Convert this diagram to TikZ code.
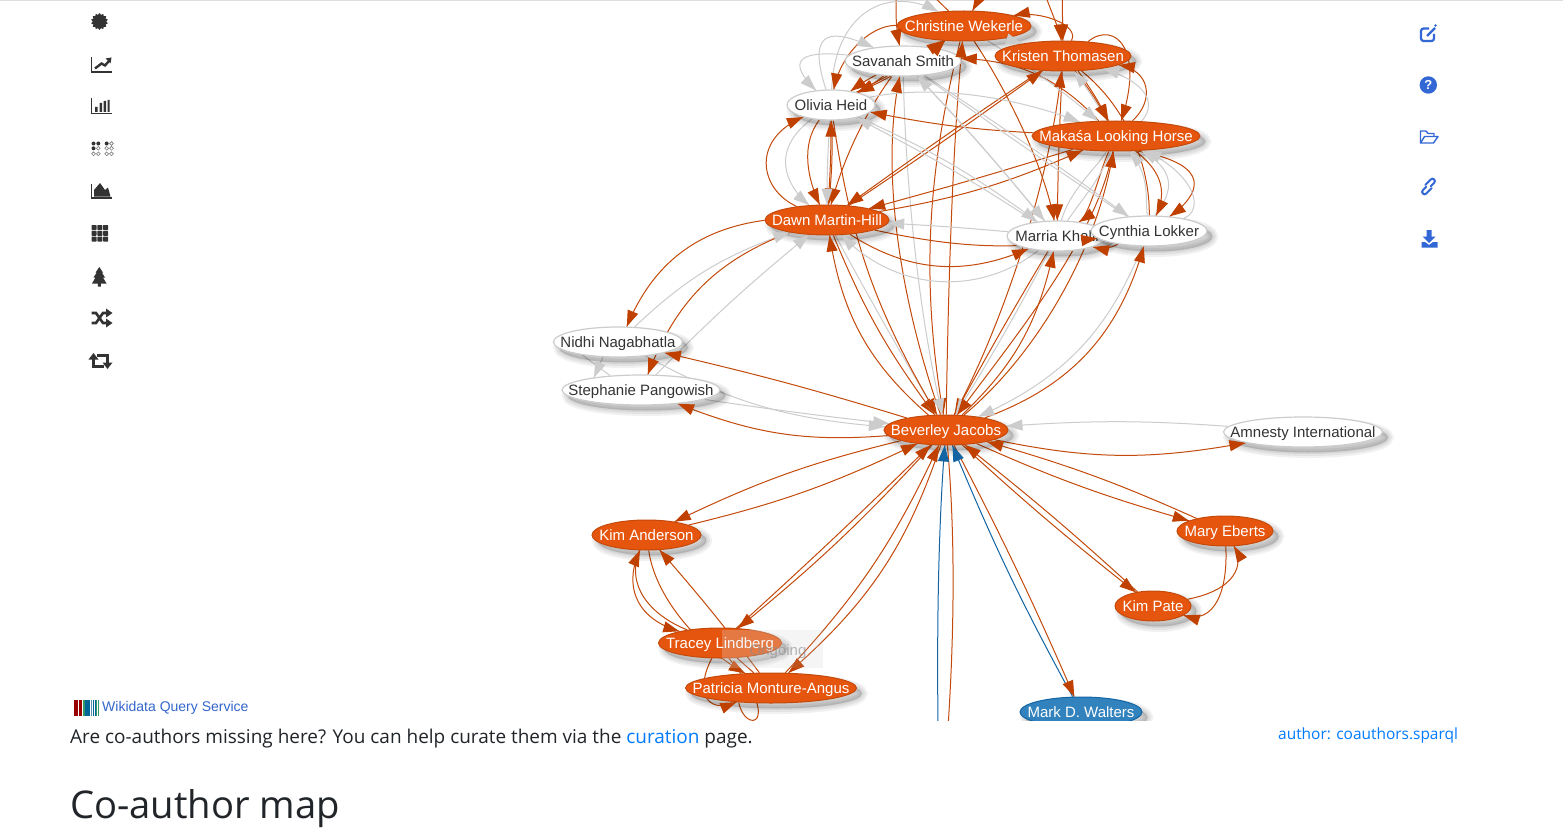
\documentclass[tikz,border=0pt]{standalone}
\usepackage{fontspec}
\setmainfont{Liberation Sans}
\newfontfamily\bodyf{Open Sans}
\usetikzlibrary{shapes.geometric,arrows.meta}
\definecolor{oc}{HTML}{C44A0C}
\definecolor{otip}{HTML}{C04000}
\definecolor{ofill}{HTML}{E6550D}
\definecolor{bc}{HTML}{1264A3}
\definecolor{bfill}{HTML}{3182BD}
\definecolor{gc}{HTML}{CCCCCC}
\definecolor{ink}{HTML}{333333}
\definecolor{iconb}{HTML}{3367D6}
\definecolor{linkb}{HTML}{007BFF}
\definecolor{wdq}{HTML}{3366CC}
\definecolor{head}{HTML}{212529}
\pgfdeclarelayer{paper}\pgfdeclarelayer{edges}\pgfdeclarelayer{tips}\pgfsetlayers{paper,edges,main,tips}
\tikzset{
 softlayer/.style={preaction={fill=black,draw=black,fill opacity=.055,draw opacity=.055,line width=#1,transform canvas={shift={(5.5pt,-5.5pt)}}}},
 softshadow/.style={softlayer=11pt,softlayer=7pt,softlayer=3pt},
 gnode/.style={ellipse,inner sep=0pt,minimum height=30pt,font=\fontsize{15}{15}\selectfont,softshadow},
 onode/.style={gnode,fill=ofill,draw=oc,line width=1pt,text=white},
 wnode/.style={gnode,fill=white,draw=gc,line width=1.2pt,text=ink},
 bnode/.style={gnode,fill=bfill,draw=bc,line width=1pt,text=white},
 oline/.style={draw=oc,line width=1pt},
 gline/.style={draw=gc,line width=1pt},
 bline/.style={draw=bc,line width=1pt},
 tiphead/.style={dash pattern=on 0pt off 4000pt,line cap=butt,line width=1pt,
   -{Triangle[length=16pt,width=11pt]}},
 otips/.style={draw=otip,tiphead},
 gtips/.style={draw=gc,tiphead},
 btips/.style={draw=bc,tiphead},
 icond/.style={fill=ink,draw=none},
 axisl/.style={draw=ink,line width=1.4pt},
 iconbl/.style={draw=iconb,line width=1.7pt,fill=none},
 iconbf/.style={fill=iconb,draw=none},
}
\newcommand\T[1]{\makebox[0pt]{\rule[-3.2pt]{0pt}{17.2pt}#1}}
\newcommand\mkedge[3]{%
 \begin{pgfonlayer}{edges}\begin{scope}\clip (0,1) rectangle (1563,720);\draw[#1] #3;\end{scope}\end{pgfonlayer}%
 \begin{pgfonlayer}{tips}\begin{scope}\clip (0,1) rectangle (1563,720);\draw[#2] #3;\end{scope}\end{pgfonlayer}}
\newcommand\Eo[1]{\mkedge{oline}{otips}{#1}}
\newcommand\Eg[1]{\mkedge{gline}{gtips}{#1}}
\newcommand\Eb[1]{\mkedge{bline}{btips}{#1}}
\newcommand\Lo[1]{\begin{pgfonlayer}{edges}\begin{scope}\clip (0,1) rectangle (1563,720);\draw[oline] #1;\end{scope}\end{pgfonlayer}}
\newcommand\Lg[1]{\begin{pgfonlayer}{edges}\begin{scope}\clip (0,1) rectangle (1563,720);\draw[gline] #1;\end{scope}\end{pgfonlayer}}
\begin{document}
\begin{tikzpicture}[x=1pt,y=-1pt]
\useasboundingbox (0,0) rectangle (1563,832);
\begin{pgfonlayer}{paper}
\fill[white] (0,0) rectangle (1563,832);
\fill[black!13] (0,0) rectangle (1563,1);
\end{pgfonlayer}
% ---------- nodes
\begin{scope}
\clip (0,1) rectangle (1563,720);
\node[wnode,minimum width=100pt] (mk) at (1057,236) {\T{Marria Khalil}};
\node[wnode,minimum width=116pt] (cl) at (1149,231) {\T{Cynthia Lokker}};
\node[onode,minimum width=134pt] (cw) at (964,26) {\T{Christine Wekerle}};
\node[wnode,minimum width=116pt] (ss) at (903,61) {\T{Savanah Smith}};
\node[onode,minimum width=136pt] (kt) at (1063,56) {\T{Kristen Thomasen}};
\node[wnode,minimum width=88pt] (oh) at (831,105) {\T{Olivia Heid}};
\node[onode,minimum width=168pt] (mlh) at (1116,136) {\T{Makaśa Looking Horse}};
\node[onode,minimum width=124pt] (dmh) at (827,220) {\T{Dawn Martin-Hill}};
\node[wnode,minimum width=129pt] (nn) at (618,342) {\T{Nidhi Nagabhatla}};
\node[wnode,minimum width=158pt] (sp) at (641,390) {\T{Stephanie Pangowish}};
\node[onode,minimum width=124pt] (bj) at (946,430) {\T{Beverley Jacobs}};
\node[wnode,minimum width=159pt] (ai) at (1303,432) {\T{Amnesty International}};
\node[onode,minimum width=109pt] (ka) at (646.5,535) {\T{Kim Anderson}};
\node[onode,minimum width=96pt] (me) at (1225,531) {\T{Mary Eberts}};
\node[onode,minimum width=123pt] (tl) at (720,643) {\T{Tracey Lindberg}};
\node[onode,minimum width=76pt] (kp) at (1153,606) {\T{Kim Pate}};
\node[onode,minimum width=171pt] (pma) at (771,688) {\T{Patricia Monture-Angus}};
\node[bnode,minimum width=122pt] (mw) at (1081,712) {\T{Mark D. Walters}};
\end{scope}
% free ends off the canvas
\coordinate (t1) at (897,-20);
\coordinate (t2) at (1062,-20);
\coordinate (t3) at (1040,-20);
\coordinate (t4) at (985,-12);
\coordinate (t5) at (925,-12);
\coordinate (d1) at (939,780);
\coordinate (d2) at (944,780);
% ---------- bottom half
\Eo{(bj) to[bend right=6] (ka)}
\Eo{(ka) to[bend right=6] (bj)}
\Eo{(bj) to[bend left=4] (tl)}
\Eo{(tl) to[bend right=1] (bj)}
\Eo{(bj) to[bend left=15] (pma)}
\Eo{(pma) to[bend right=9] (bj)}
\Eo{(ka) .. controls (622,590) and (640,620) .. (tl)}
\Eo{(tl) .. controls (650,615) and (625,585) .. (ka)}
\Eo{(ka) .. controls (655,595) and (695,645) .. (pma)}
\Eo{(pma) to[bend right=2] (ka)}
\Eo{(tl) .. controls (695,690) and (705,715) .. (pma)}
\Lo{(tl) -- (pma)}
\Lo{(pma.204) .. controls (745,735) and (785,725) .. (tl.-60)}
\Eb{(d1) .. controls (936,650) and (938,530) .. (bj)}
\Eo{(bj) .. controls (955,530) and (956,640) .. (d2)}
\Eo{(bj) to[bend left=2] (mw)}
\Eb{(mw) to[bend left=3] (bj)}
\Eo{(bj) to[bend right=2] (kp)}
\Eo{(kp) to[bend right=2] (bj)}
\Eo{(bj) to[bend right=4] (me)}
\Eo{(me) to[bend right=4] (bj)}
\Eg{(ai) to[bend right=4] (bj)}
\Eo{(bj) to[bend right=11] (ai)}
\Eo{(kp) .. controls (1235,590) and (1245,565) .. (me)}
\Eo{(me) .. controls (1228,590) and (1215,625) .. (kp)}
\Eo{(bj) to[bend right=2] (nn)}
\Eg{(nn) to[bend right=12] (bj)}
\Eg{(sp) to[bend right=1] (bj)}
\Eo{(bj) to[bend left=13] (sp)}
\Eg{(nn.-135) -- (sp.165)}
\Lg{(nn.200) -- (sp.155)}
\Eo{(dmh) to[bend right=30] (nn)}
\Eg{(nn) to[bend left=12] (dmh)}
\Eo{(dmh) to[bend right=24] (sp)}
\Eg{(sp) to[bend left=3] (dmh)}
\Eo{(bj) to[bend left=20] (dmh)}
\Eo{(dmh) to[bend right=7] (bj)}
\Eg{(dmh) to[bend right=1] (bj)}
\Eo{(oh) to[bend right=11] (bj)}
\Eo{(bj) .. controls (900,300) and (880,170) .. (ss)}
\Eo{(cw) .. controls (925,180) and (922,290) .. (bj)}
\Eo{(bj) .. controls (948,300) and (952,150) .. (cw)}
\Eg{(ss) .. controls (905,160) and (915,300) .. (bj)}
\Eo{(bj) .. controls (1005,320) and (1050,180) .. (kt)}
\Eo{(bj) to[bend right=17] (mk)}
\Eo{(mk) to[bend right=1] (bj)}
\Eg{(mk) to[bend left=2] (bj)}
\Eo{(mlh) .. controls (1095,240) and (1020,330) .. (bj)}
\Eo{(bj) .. controls (1030,360) and (1095,260) .. (mlh)}
\Eo{(bj) to[bend right=27] (cl)}
\Eg{(cl) to[bend left=22] (bj)}
% ---------- top half, orange
\Eo{(dmh) to[bend right=28] (mk)}
\Eg{(mk) to[bend left=42] (dmh)}
\Eo{(dmh) to[bend right=10] (cl)}
\Eo{(cl) to[bend left=20] (mk)}
\Eg{(mk) to[bend right=1] (dmh)}
\Eo{(mlh) to[bend left=4] (oh)}
\Eo{(cw) .. controls (870,25) and (840,55) .. (oh)}
\Eo{(dmh) .. controls (760,190) and (750,140) .. (oh)}
\Eo{(oh) .. controls (800,145) and (808,180) .. (dmh)}
\Eo{(oh) to[bend left=4] (dmh)}
\Eo{(dmh) to[bend right=2] (oh)}
\Eo{(ss) .. controls (860,120) and (840,170) .. (dmh)}
\Eo{(dmh) to[bend right=1] (kt)}
\Eo{(kt) to[bend right=1] (dmh)}
\Eo{(mlh) to[bend left=1] (dmh)}
\Eo{(dmh) to[bend right=7] (mlh)}
\Eo{(mlh) to[bend right=22] (ss)}
\Eo{(ss) to[bend left=6] (oh)}
\Eo{(ss) to[bend right=4] (oh)}
\Eo{(cw) to[bend left=6] (oh)}
\Eo{(ss) to[bend right=8] (cw)}
\Eo{(oh) to[bend right=4] (cw)}
\Eo{(t1) .. controls (895,10) and (896,30) .. (ss)}
\Eo{(kt) .. controls (1080,25) and (1040,10) .. (cw)}
\Eo{(t2) -- (kt)}
\Eo{(t3) .. controls (1050,10) and (1060,30) .. (kt)}
\Eo{(t4) -- (cw)}
\Lo{(t5) -- (cw)}
\Eo{(kt) to[bend left=5] (mlh)}
\Eo{(kt.-45) to[bend left=4] (mlh)}
\Lo{(kt) .. controls (1130,110) and (1150,170) .. (cl)}
\Eo{(mlh) .. controls (1160,170) and (1168,190) .. (cl)}
\Eo{(mlh.-35) .. controls (1215,165) and (1200,195) .. (cl)}
\Eo{(kt.30) .. controls (1115,20) and (1145,50) .. (mlh)}
\Eo{(mlh) .. controls (1155,100) and (1150,70) .. (kt)}
\Eo{(cw) .. controls (1010,95) and (1045,170) .. (mk)}
\Eo{(kt) to[bend right=1] (mk)}
\Eo{(mlh) .. controls (1100,170) and (1090,215) .. (mk)}
% ---------- top half, grey
\Eg{(oh) .. controls (835,10) and (890,-15) .. (cw)}
\Eg{(oh) .. controls (805,25) and (835,30) .. (ss)}
\Eg{(ss) .. controls (800,50) and (785,60) .. (oh)}
\Eg{(oh) .. controls (930,85) and (1010,95) .. (mlh)}
\Eg{(oh) to[bend left=6] (mk)}
\Eg{(mk) to[bend right=3] (oh)}
\Eg{(ss) to[bend left=2] (mk)}
\Eg{(mk) to[bend right=2] (ss)}
\Eg{(ss) to[bend left=1] (cl)}
\Lg{(cl) to[bend left=1] (ss)}
\Eg{(oh) .. controls (770,150) and (785,185) .. (dmh)}
\Eg{(oh) to[bend right=2] (dmh)}
\Eg{(cw) to[bend left=4] (mlh)}
\Eg{(cw) -- (kt)}
\Eg{(mlh.30) .. controls (1160,100) and (1140,80) .. (kt)}
\Eg{(mlh) to[bend right=3] (kt)}
\Eg{(cl) .. controls (1145,195) and (1150,175) .. (mlh)}
\Eg{(cl.20) .. controls (1205,210) and (1195,175) .. (mlh)}
\Eg{(cl.70) .. controls (1175,190) and (1175,170) .. (mlh)}
\Lg{(mk) .. controls (1085,195) and (1100,180) .. (mlh)}
\Lg{(mk) .. controls (1070,190) and (1095,170) .. (mlh)}
% ---------- "Ongoing" overlay
\begin{pgfonlayer}{tips}
\fill[black!25,fill opacity=.14] (722,630) rectangle (823,668);
\fill[white,fill opacity=.14] (722,630) rectangle (782,668);
\node[font=\fontsize{15}{15}\selectfont,text=black!45,text opacity=.6] (ongoing) at (778,650) {\T{Ongoing}};
\end{pgfonlayer}
% ---------- left icons
\node[star,star points=14,star point ratio=1.25,minimum size=17pt,inner sep=0pt,icond] (ic1) at (99.5,21.5) {};
\draw[axisl] (91.7,57) -- (91.7,72) -- (112,72);
\draw[draw=ink,line width=2.4pt] (95,68.5) -- (101.5,63.5) -- (105,65.5) -- (109,61);
\fill[ink] (105.5,58.5) -- (111.5,57.5) -- (110.5,63.5) -- cycle;
\draw[axisl] (91.7,98) -- (91.7,113.5) -- (112,113.5);
\fill[ink] (95,107) rectangle (97.5,112) (99.5,103) rectangle (102,112) (103.5,101) rectangle (106,112) (107.5,100) rectangle (109.5,112);
\foreach \x/\y in {93.5/143.5,98.3/143.5,93.5/148.3,106.7/143.5}{\fill[ink] (\x,\y) circle (2);}
\foreach \x/\y in {98.3/148.3,93.5/153.8,98.3/153.8,111.5/143.5,106.7/148.3,111.5/148.3,106.7/153.8,111.5/153.8}{\draw[black!50,line width=.6pt] (\x,\y) circle (1.9);}
\draw[axisl] (91.7,183.5) -- (91.7,198) -- (112,198);
\fill[ink] (94,196.5) -- (94,190) -- (100,183) -- (105,190) -- (108,187.5) -- (110.5,196.5) -- cycle;
\foreach \x in {91.5,97.3,103.1}\foreach \y in {225,230.8,236.6}{\fill[ink,rounded corners=.6pt] (\x,\y) rectangle ++(5,5);}
\fill[ink] (99.3,267) -- (103,272.5) -- (101.8,272.5) -- (105,277.5) -- (103,277.5) -- (106.5,283.5) -- (92,283.5) -- (95.5,277.5) -- (93.5,277.5) -- (96.8,272.5) -- (95.6,272.5) -- cycle (97.8,283.5) rectangle (100.8,286.5);
\draw[draw=ink,line width=2.6pt] (91.5,313) -- (96,313) -- (103,323) -- (107,323) (91.5,323) -- (96,323) -- (103,313) -- (107,313);
\fill[ink] (106,308.5) -- (112.5,313) -- (106,317.5) -- cycle (106,318.5) -- (112.5,323) -- (106,327.5) -- cycle;
\draw[draw=ink,line width=2.8pt] (93.5,358) -- (93.5,366.5) -- (104,366.5) (107.5,364) -- (107.5,355.5) -- (97,355.5);
\fill[ink] (88.5,359.5) -- (93.5,353) -- (98.5,359.5) -- cycle (102.5,362.5) -- (107.5,369) -- (112.5,362.5) -- cycle;
% ---------- right icons
\draw[iconbl,line width=2.2pt,rounded corners=2.5pt] (1429,28.5) -- (1421,28.5) -- (1421,41) -- (1434,41) -- (1434,34);
\draw[draw=iconb,line width=2.4pt] (1427,36) -- (1435,28);
\fill[iconb] (1435.5,25.5) circle (1.4);
\fill[iconb] (1428.3,85) circle (8.7);
\node[font=\bfseries\fontsize{13}{13}\selectfont,text=white,inner sep=0pt] (ic2) at (1428.3,85) {?};
\draw[iconbl,line width=1.4pt,line join=round] (1420.5,143) -- (1420.5,131) -- (1426,131) -- (1428,133.5) -- (1434,133.5) -- (1434,136.5);
\draw[iconbl,line width=1.4pt,line join=round] (1420.5,143) -- (1424.5,136.5) -- (1438,136.5) -- (1433.5,143) -- cycle;
\begin{scope}[shift={(1428.5,186.5)},rotate=-45]
\draw[iconbl,line width=2pt,rounded corners=2.4pt,line cap=round] (-3.4,1) -- (-3.4,-9) -- (1.4,-9) -- (1.4,-2);
\draw[iconbl,line width=2pt,rounded corners=2.4pt,line cap=round] (3.4,-1) -- (3.4,9) -- (-1.4,9) -- (-1.4,2);
\end{scope}
\fill[iconb] (1426.5,230) rectangle (1431.5,236.5) (1422.5,236.5) -- (1435.5,236.5) -- (1429,243) -- cycle;
\fill[iconb] (1421.5,242) -- (1425,242) -- (1429,245) -- (1433,242) -- (1437.5,242) -- (1437.5,247.5) -- (1421.5,247.5) -- cycle;
% ---------- footer
\foreach \a/\b/\c in {74/75.5/990000,76/78/990000,78.5/79.3/990000,80/81.5/990000,82.5/83.3/339966,84/84.6/339966,85.2/87.5/006699,88/90/006699,90.5/92/5A8FB0,92.7/94/006699,94.8/95.6/006699,96.3/97/339966,98/98.8/339966}{
 \definecolor{stripe}{HTML}{\c}\fill[stripe] (\a,700) rectangle (\b,716);}
\node[anchor=base west,inner sep=0pt,text=wdq,font=\fontsize{14}{14}\selectfont] (wq) at (102,711) {Wikidata Query Service};
\node[anchor=base west,inner sep=0pt,text=head,font=\bodyf\fontsize{18.97}{19}\selectfont] (q) at (70,743) {Are co-authors missing here? You can help curate them via the \textcolor{linkb}{curation} page.};
\node[anchor=base west,inner sep=0pt,text=linkb,font=\bodyf\fontsize{15.45}{16}\selectfont] (src) at (1278,739) {author: coauthors.sparql};
\node[anchor=base west,inner sep=0pt,text=head,font=\bodyf\fontsize{38.2}{39}\selectfont] (h) at (70,818) {Co-author map};
\end{tikzpicture}
\end{document}
